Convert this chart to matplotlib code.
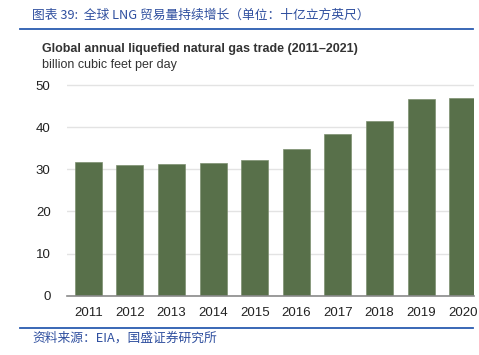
import matplotlib
matplotlib.use("Agg")
import matplotlib.pyplot as plt
from matplotlib.lines import Line2D

years = ["2011", "2012", "2013", "2014", "2015", "2016", "2017", "2018", "2019", "2020"]
values = [31.7, 31.1, 31.2, 31.4, 32.2, 34.7, 38.3, 41.4, 46.7, 46.9]
yticks = [0, 10, 20, 30, 40, 50]

W, H = 479, 355
fig = plt.figure(figsize=(W / 100, H / 100), dpi=100)
fig.patch.set_facecolor("white")

cjk = ["Noto Sans CJK SC", "DejaVu Sans"]
blue_text = "#2f4f9f"
blue_line = "#2a5cb0"

# Header
fig.text(32 / W, 1 - 15 / H, "图表 39:  全球 LNG 贸易量持续增长（单位：十亿立方英尺）",
         family=cjk, fontsize=9.2, color=blue_text, style="italic", va="center", ha="left",
         fontweight="light")
fig.add_artist(Line2D([20 / W, 473 / W], [1 - 28.5 / H, 1 - 28.5 / H], color=blue_line, lw=1.3))

# Footer
fig.add_artist(Line2D([20 / W, 473 / W], [1 - 327.5 / H, 1 - 327.5 / H], color=blue_line, lw=1.3))
fig.text(32 / W, 1 - 338 / H, "资料来源：EIA，国盛证券研究所",
         family=cjk, fontsize=9.2, color=blue_text, style="italic", va="center", ha="left",
         fontweight="light")

# Chart title
fig.text(42 / W, 1 - 49 / H, "Global annual liquefied natural gas trade (2011–2021)",
         family="Liberation Sans", fontsize=9, fontweight="bold", color="#333333",
         va="center", ha="left")
fig.text(42 / W, 1 - 65 / H, "billion cubic feet per day",
         family="Liberation Sans", fontsize=9, color="#333333", va="center", ha="left")

# Axes: left 67.3px, right 474px, y0 at 295.7, y50 at 85
left, right = 67.3, 474.0
y0px, y50px = 295.7, 85.0
ymax = 52.0
ppu = (y0px - y50px) / 50
top_px = y0px - ymax * ppu
ax = fig.add_axes([left / W, 1 - y0px / H, (right - left) / W, (y0px - top_px) / H])

x = list(range(len(years)))
ax.bar(x, values, width=0.65, color="#58704a", edgecolor="#7d8f70", linewidth=0.5, zorder=3)
ax.set_xlim(-0.505, 9.27)
ax.set_ylim(0, ymax)
ax.set_yticks(yticks)
ax.set_yticklabels([str(v) for v in yticks])
ax.set_xticks(x)
ax.set_xticklabels(years)
ax.grid(axis="y", color="#e3e3e3", lw=1.0, zorder=0)
for s in ["top", "right", "left"]:
    ax.spines[s].set_visible(False)
ax.spines["bottom"].set_color("#8a8a8a")
ax.spines["bottom"].set_linewidth(1.2)
ax.spines["bottom"].set_zorder(4)
ax.tick_params(axis="both", length=0, labelsize=9.5, colors="#222222")
ax.tick_params(axis="y", pad=12)
ax.tick_params(axis="x", pad=8)
for lab in ax.get_xticklabels() + ax.get_yticklabels():
    lab.set_family("Liberation Sans")

fig.savefig("out.png", dpi=100)
